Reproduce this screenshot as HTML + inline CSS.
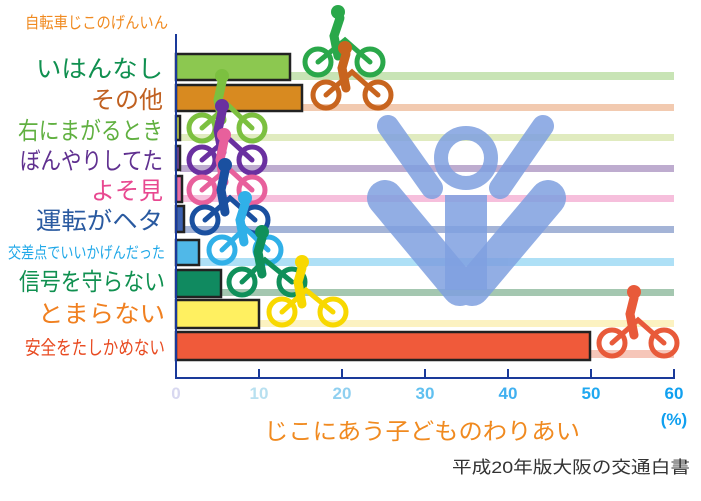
<!DOCTYPE html>
<html><head><meta charset="utf-8"><style>
html,body{margin:0;padding:0;background:#fff;}
svg{display:block;}
text{font-family:"Liberation Sans","Noto Sans CJK JP",sans-serif;}
</style></head><body>
<svg width="701" height="501" viewBox="0 0 701 501" xmlns="http://www.w3.org/2000/svg">
<g opacity="0.55">
<rect x="290" y="72" width="384" height="8" fill="#9ccf7a"/>
<rect x="302" y="104" width="372" height="7" fill="#e8a070"/>
<rect x="180" y="134" width="494" height="7" fill="#c8dc8c"/>
<rect x="180" y="165" width="494" height="7" fill="#8a6aa8"/>
<rect x="182" y="195" width="492" height="7" fill="#f08cc0"/>
<rect x="184" y="226" width="490" height="7" fill="#5a78b8"/>
<rect x="199" y="258" width="475" height="8" fill="#6cc8f0"/>
<rect x="221" y="289" width="453" height="7" fill="#5a9a70"/>
<rect x="259" y="320" width="415" height="7" fill="#fbe890"/>
<rect x="590" y="350" width="84" height="8" fill="#f09880"/>
</g>
<g fill="none" stroke="#7fa0e0" stroke-linecap="round" opacity="0.85">
<path d="M388 126 L432 188" stroke-width="22"/>
<path d="M543 126 L500 188" stroke-width="22"/>
<path d="M385 198 L460 288" stroke-width="36"/>
<path d="M548 198 L472 288" stroke-width="36"/>
<circle cx="466" cy="158" r="25" stroke-width="14"/>
</g>
<rect x="445" y="195" width="42" height="95" fill="#7fa0e0" opacity="0.85"/>
<g stroke="#222" stroke-width="2.5">
<rect x="176" y="54" width="114" height="26" fill="#8cc850"/>
<rect x="176" y="85" width="126" height="26" fill="#d88a20"/>
<rect x="176" y="116" width="4" height="24" fill="#c8d850"/>
<rect x="176" y="146" width="4" height="24" fill="#7a4aa0"/>
<rect x="176" y="176" width="6" height="26" fill="#e870a8"/>
<rect x="176" y="206" width="8" height="26" fill="#3a60b0"/>
<rect x="176" y="240" width="23" height="25" fill="#50b8e8"/>
<rect x="176" y="270" width="45" height="27" fill="#108a60"/>
<rect x="176" y="300" width="83" height="28" fill="#fff060"/>
<rect x="176" y="332" width="414" height="28" fill="#f05a3a"/>
</g>
<g fill="none" stroke-width="5" stroke-linecap="round">
<g stroke="#2aa84a"><circle cx="318" cy="62" r="13"/><circle cx="370" cy="62" r="13"/><path d="M318 62 L345 40 L370 62"/><path d="M338 56 L334 36 L340 18" stroke-width="9"/></g>
<circle cx="338" cy="12" r="7" fill="#2aa84a"/>
<g stroke="#c8641e"><circle cx="326" cy="95" r="13"/><circle cx="378" cy="95" r="13"/><path d="M326 95 L352 72 L378 95"/><path d="M346 88 L342 68 L346 54" stroke-width="9"/></g>
<circle cx="345" cy="48" r="7" fill="#c8641e"/>
<g stroke="#7cc040"><circle cx="202" cy="128" r="13"/><circle cx="252" cy="128" r="13"/><path d="M202 128 L228 105 L252 128"/><path d="M222 120 L218 100 L222 82" stroke-width="9"/></g>
<circle cx="222" cy="76" r="7" fill="#7cc040"/>
<g stroke="#6a30a0"><circle cx="202" cy="160" r="13"/><circle cx="252" cy="160" r="13"/><path d="M202 160 L228 138 L252 160"/><path d="M222 152 L218 130 L222 112" stroke-width="9"/></g>
<circle cx="222" cy="106" r="7" fill="#6a30a0"/>
<g stroke="#e8609c"><circle cx="202" cy="190" r="13"/><circle cx="252" cy="190" r="13"/><path d="M202 190 L228 168 L252 190"/><path d="M224 182 L220 160 L224 141" stroke-width="9"/></g>
<circle cx="224" cy="135" r="7" fill="#e8609c"/>
<g stroke="#1a50a0"><circle cx="205" cy="220" r="13"/><circle cx="255" cy="220" r="13"/><path d="M205 220 L230 198 L255 220"/><path d="M225 212 L221 190 L225 171" stroke-width="9"/></g>
<circle cx="225" cy="165" r="7" fill="#1a50a0"/>
<g stroke="#30b0e8"><circle cx="222" cy="250" r="13"/><circle cx="268" cy="250" r="13"/><path d="M222 250 L245 228 L268 250"/><path d="M244 242 L240 220 L245 204" stroke-width="9"/></g>
<circle cx="245" cy="198" r="7" fill="#30b0e8"/>
<g stroke="#10905a"><circle cx="242" cy="282" r="13"/><circle cx="292" cy="282" r="13"/><path d="M242 282 L265 260 L292 282"/><path d="M262 274 L258 252 L262 238" stroke-width="9"/></g>
<circle cx="262" cy="232" r="7" fill="#10905a"/>
<g stroke="#f8d800"><circle cx="282" cy="312" r="13"/><circle cx="333" cy="312" r="13"/><path d="M282 312 L306 290 L333 312"/><path d="M302 304 L298 282 L302 268" stroke-width="9"/></g>
<circle cx="302" cy="262" r="7" fill="#f8d800"/>
<g stroke="#e85a3a"><circle cx="612" cy="343" r="13"/><circle cx="664" cy="343" r="13"/><path d="M612 343 L638 320 L664 343"/><path d="M634 335 L630 314 L634 298" stroke-width="9"/></g>
<circle cx="634" cy="292" r="7" fill="#e85a3a"/>
</g>
<g stroke="#1a3a9a" stroke-width="2" fill="none">
<path d="M176 34 L176 378 L674 378 L674 369"/>
<path d="M259 378 v-9 M342 378 v-9 M425 378 v-9 M508 378 v-9 M591 378 v-9"/>
</g>
<g font-size="17" font-weight="bold" text-anchor="middle">
<text x="176" y="399" fill="#d8d8f0">0</text>
<text x="259" y="399" fill="#b8e0f0">10</text>
<text x="342" y="399" fill="#90d0f0">20</text>
<text x="425" y="399" fill="#60c0f0">30</text>
<text x="508" y="399" fill="#40b0f0">40</text>
<text x="591" y="399" fill="#20a8f0">50</text>
<text x="674" y="399" fill="#10a0f0">60</text>
<text x="674" y="425" fill="#10a0f0">(%)</text>
</g>
<text x="25" y="28" font-size="16" fill="#f08a20" textLength="143" lengthAdjust="spacingAndGlyphs">自転車じこのげんいん</text>
<g font-size="24" text-anchor="end">
<text x="163" y="77" fill="#109050" textLength="127" lengthAdjust="spacingAndGlyphs">いはんなし</text>
<text x="163" y="108" fill="#c06020">その他</text>
<text x="163" y="139" fill="#60b040" textLength="145" lengthAdjust="spacingAndGlyphs">右にまがるとき</text>
<text x="163" y="169" fill="#603090" textLength="143" lengthAdjust="spacingAndGlyphs">ぼんやりしてた</text>
<text x="163" y="199" fill="#e84890">よそ見</text>
<text x="163" y="229" fill="#2a5aa0" textLength="127" lengthAdjust="spacingAndGlyphs">運転がヘタ</text>
<text x="165" y="258" font-size="16" fill="#20a8e8" textLength="157" lengthAdjust="spacingAndGlyphs">交差点でいいかげんだった</text>
<text x="165" y="290" fill="#109050" textLength="146" lengthAdjust="spacingAndGlyphs">信号を守らない</text>
<text x="165" y="322" fill="#f08020" textLength="127" lengthAdjust="spacingAndGlyphs">とまらない</text>
<text x="165" y="354" font-size="19" fill="#e84a20" textLength="140" lengthAdjust="spacingAndGlyphs">安全をたしかめない</text>
</g>
<text x="264" y="439" font-size="23" fill="#f08a20" textLength="316" lengthAdjust="spacingAndGlyphs">じこにあう子どものわりあい</text>
<text x="690" y="473" font-size="17" fill="#333" text-anchor="end" textLength="238" lengthAdjust="spacingAndGlyphs">平成20年版大阪の交通白書</text>
</svg>
</body></html>
